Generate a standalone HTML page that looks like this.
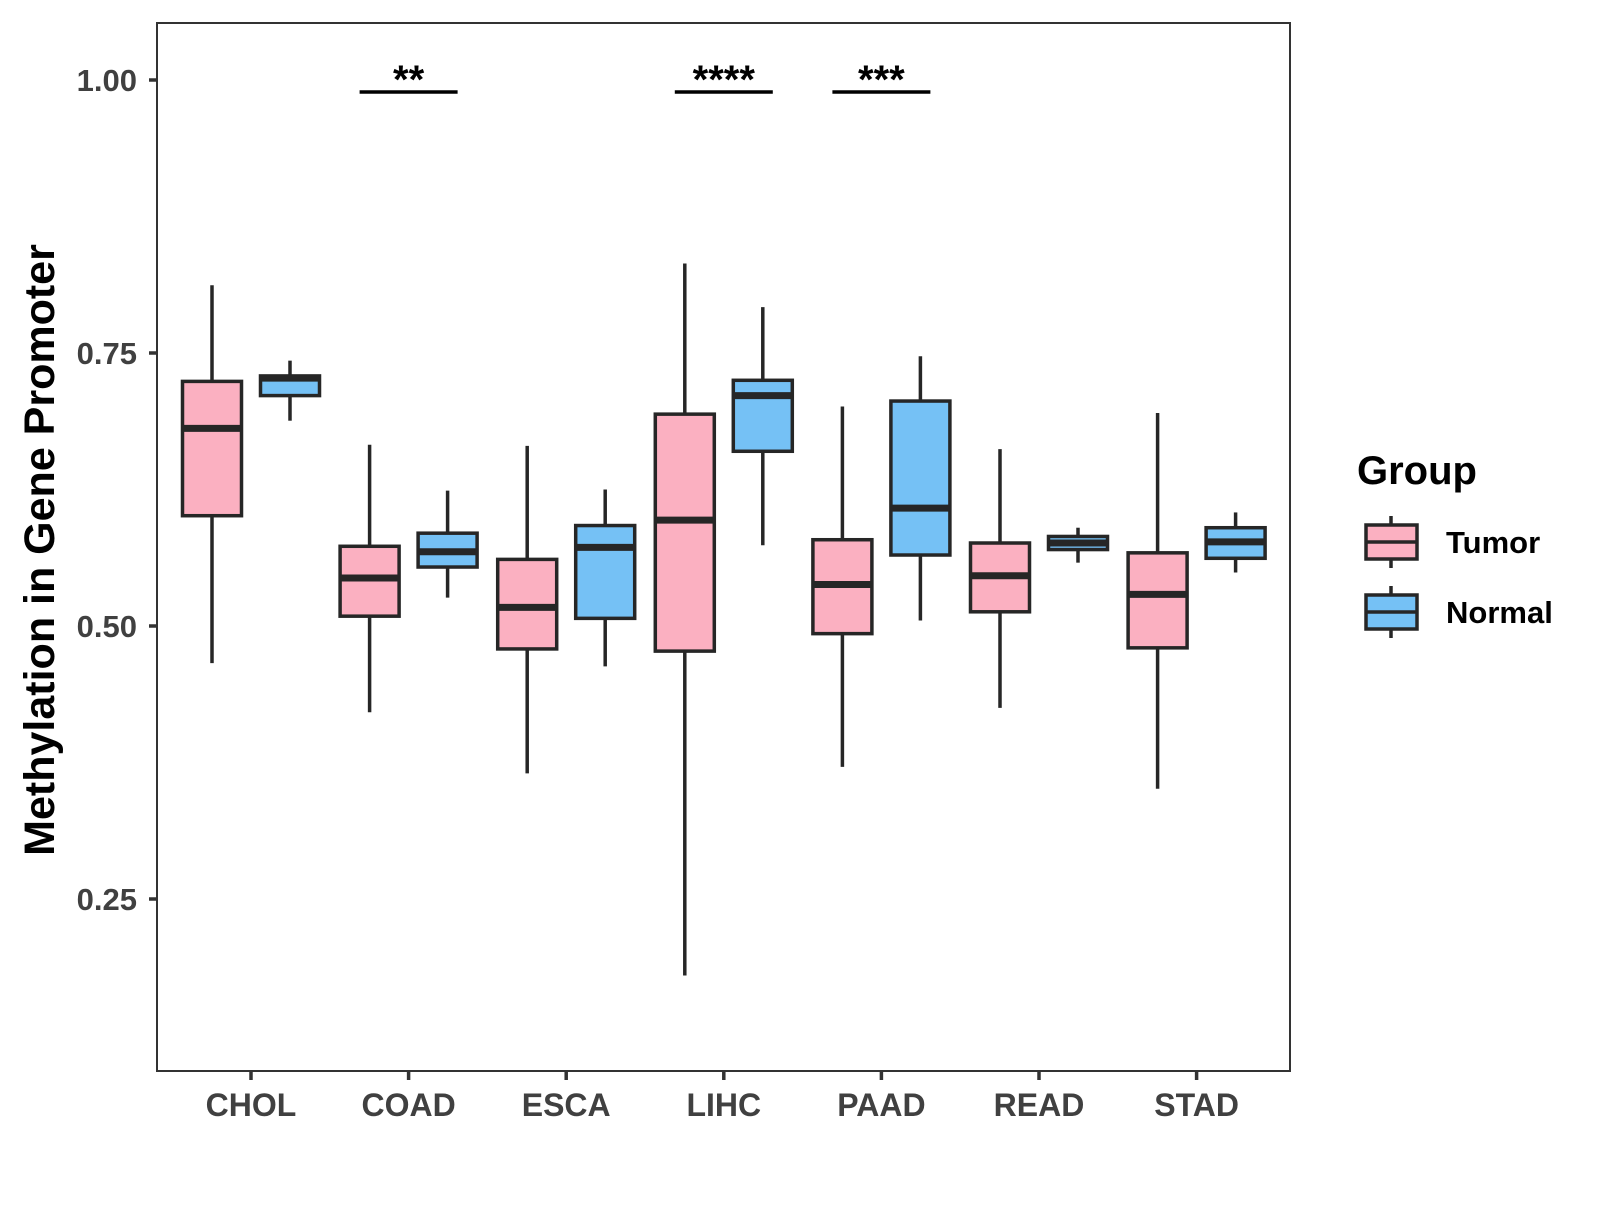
<!DOCTYPE html>
<html><head><meta charset="utf-8"><style>
body{margin:0;background:#fff}
svg text{font-family:"Liberation Sans",Arial,sans-serif;font-weight:bold}
</style></head><body>
<svg id="chart" width="1600" height="1200" xmlns="http://www.w3.org/2000/svg"></svg>
<script>
const categories=["CHOL","COAD","ESCA","LIHC","PAAD","READ","STAD"];
// [lowWhisker,Q1,median,Q3,highWhisker]
const tumorStats=[[0.466,0.601,0.681,0.724,0.812],[0.421,0.509,0.544,0.573,0.666],[0.365,0.479,0.517,0.561,0.665],[0.180,0.477,0.597,0.694,0.832],[0.371,0.493,0.538,0.579,0.701],[0.425,0.513,0.546,0.576,0.662],[0.351,0.480,0.529,0.567,0.695]];
const normalStats=[[0.688,0.711,0.727,0.729,0.743],[0.526,0.554,0.568,0.585,0.624],[0.463,0.507,0.572,0.592,0.625],[0.574,0.660,0.711,0.725,0.792],[0.505,0.565,0.608,0.706,0.747],[0.558,0.570,0.576,0.582,0.590],[0.549,0.562,0.577,0.590,0.604]];
const yTicks=[0.25,0.5,0.75,1.0];
const yTickLabels=["0.25","0.50","0.75","1.00"];
const sigCategories=["COAD","LIHC","PAAD"];
const sigLabels=["**","****","***"];
const sigLevel=0.989;

const NS="http://www.w3.org/2000/svg";
const svg=document.getElementById('chart');
const L=157,R=1290,T=23,B=1071;
const y=v=>626-(v-0.5)*1092;
const x=i=>251+i*157.6;
function el(tag,attrs,parent){const e=document.createElementNS(NS,tag);for(const k in attrs)e.setAttribute(k,attrs[k]);(parent||svg).appendChild(e);return e;}

const panel=el('rect',{x:L,y:T,width:R-L,height:B-T,fill:'none',stroke:'#333',"stroke-width":2});



yTicks.forEach((v,i)=>{
  const t=el('line',{x1:L-8,x2:L,y1:y(v),y2:y(v),stroke:'#333',"stroke-width":3.5});
  
  
  const lb=el('text',{x:L-20,y:y(v)+11,"text-anchor":"end","font-size":31,fill:'#404040'});
  lb.textContent=yTickLabels[i];
  
  
});
categories.forEach((c,i)=>{
  const t=el('line',{x1:x(i),x2:x(i),y1:B,y2:B+9,stroke:'#333',"stroke-width":3.5});
  
  
  const lb=el('text',{x:x(i),y:1116,"text-anchor":"middle","font-size":32,fill:'#404040'});
  lb.textContent=c;
  
  
});

function box(cx,s,fill,name){
  const g=el('g',{});
  
  
  const w=59;
  el('line',{x1:cx,x2:cx,y1:y(s[4]),y2:y(s[0]),stroke:'#262626',"stroke-width":3.5},g);
  el('rect',{x:cx-w/2,y:y(s[3]),width:w,height:y(s[1])-y(s[3]),fill:fill,stroke:'#262626',"stroke-width":3.5},g);
  el('line',{x1:cx-w/2,x2:cx+w/2,y1:y(s[2]),y2:y(s[2]),stroke:'#262626',"stroke-width":7},g);
}
categories.forEach((c,i)=>{
  box(x(i)-39,tumorStats[i],'#FBB0C1','box-tumor-'+c.toLowerCase());
  box(x(i)+39,normalStats[i],'#75C1F5','box-normal-'+c.toLowerCase());
});

sigCategories.forEach((c,k)=>{
  const i=categories.indexOf(c);
  const ln=el('line',{x1:x(i)-49,x2:x(i)+49,y1:y(sigLevel),y2:y(sigLevel),stroke:'#000',"stroke-width":3.5});
  
  
  const t=el('text',{x:x(i),y:y(sigLevel)+1,"text-anchor":"middle","font-size":40,fill:'#000'});
  t.textContent=sigLabels[k];
  
  
});

const yt=el('text',{x:0,y:0,"text-anchor":"middle","font-size":43,fill:'#000',transform:'translate(54,550) rotate(-90)'});
yt.textContent='Methylation in Gene Promoter';



const lg=el('text',{x:1357,y:484,"font-size":40,fill:'#000'});
lg.textContent='Group';


[['Tumor','#FBB0C1',542],['Normal','#75C1F5',612]].forEach(([n,f,cy])=>{
  const g=el('g',{});
  
  
  el('line',{x1:1391,x2:1391,y1:cy-26,y2:cy+26,stroke:'#262626',"stroke-width":3.5},g);
  el('rect',{x:1366,y:cy-17,width:51,height:34,fill:f,stroke:'#262626',"stroke-width":3.5},g);
  el('line',{x1:1366,x2:1417,y1:cy,y2:cy,stroke:'#262626',"stroke-width":3.5},g);
  const t=el('text',{x:1446,y:cy+11,"font-size":31,fill:'#000'},g);
  t.textContent=n;
});
</script>
</body></html>
